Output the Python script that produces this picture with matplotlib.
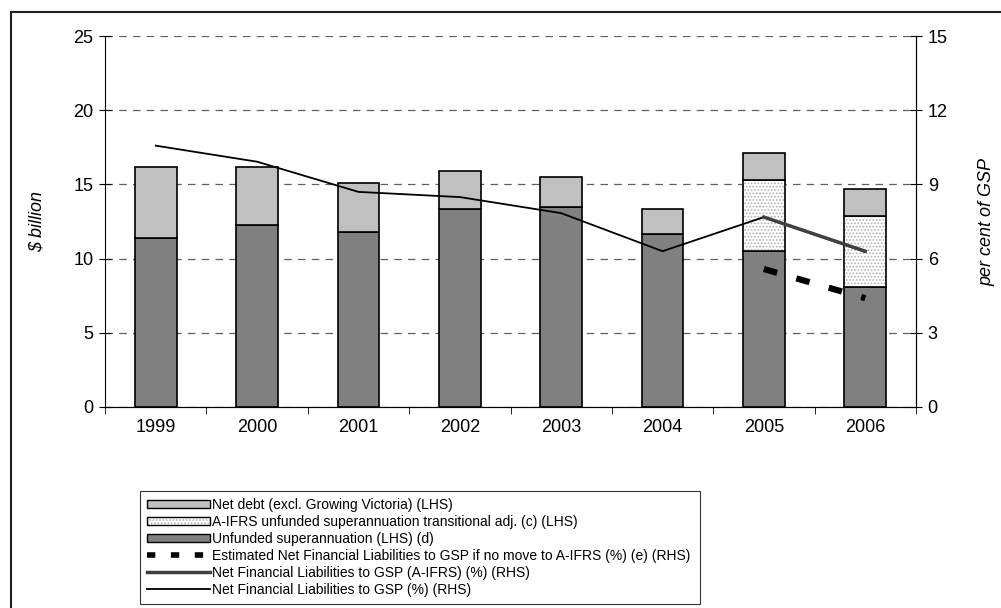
import numpy as np
import matplotlib
matplotlib.use("Agg")
import matplotlib.pyplot as plt
from matplotlib.patches import Patch, Rectangle
from matplotlib.lines import Line2D
from matplotlib.legend_handler import HandlerTuple

plt.rcParams['font.family'] = ['Liberation Sans', 'DejaVu Sans']
plt.rcParams['hatch.linewidth'] = 0.8

years = ['1999', '2000', '2001', '2002', '2003', '2004', '2005', '2006']
unfunded = [11.4, 12.3, 11.8, 13.35, 13.45, 11.65, 10.5, 8.1]
transitional = [0, 0, 0, 0, 0, 0, 4.8, 4.8]
net_debt = [4.8, 3.9, 3.3, 2.55, 2.05, 1.7, 1.8, 1.8]
nfl_pct = [10.57, 9.92, 8.7, 8.49, 7.84, 6.3, 7.68, 6.27]
nfl_aifrs_years = ['2005', '2006']
nfl_aifrs = [7.68, 6.3]
nfl_est_years = ['2005', '2006']
nfl_est = [5.58, 4.4]

fig = plt.figure(figsize=(10.01, 6.08), dpi=100)
# outer frame, cut off at right and bottom like the original
fig.patches.append(Rectangle((11 / 1001, -0.05), 1.1, 1.05 - 12 / 608, transform=fig.transFigure,
                             fill=False, edgecolor='#202020', linewidth=1.5))
ax = fig.add_axes([0.105, 0.3306, 0.81, 0.61])
ax2 = ax.twinx()

x = np.arange(len(years))
w = 0.41
bottom2 = np.array(unfunded)
bottom3 = bottom2 + np.array(transitional)

ax.bar(x, unfunded, w, color='#808080', edgecolor='black', linewidth=1.2, zorder=3)
ax.bar(x, transitional, w, bottom=bottom2, color='white', edgecolor='#b0b0b0',
       hatch='.....', linewidth=0, zorder=3)
ax.bar(x, transitional, w, bottom=bottom2, fill=False, edgecolor='black', linewidth=1.2, zorder=3)
ax.bar(x, net_debt, w, bottom=bottom3, color='#c0c0c0', edgecolor='black', linewidth=1.2, zorder=3)

xi = {y: i for i, y in enumerate(years)}
ax2.plot(x, nfl_pct, color='black', lw=1.3, zorder=4)
ax2.plot([xi[y] for y in nfl_aifrs_years], nfl_aifrs, color='#404040', lw=2.5, zorder=4)
ax2.plot([xi[y] for y in nfl_est_years], nfl_est, color='black', lw=4.5,
         dashes=(2.2, 3.2), zorder=4)

ax.set_xlim(-0.5, 7.5)
ax.set_ylim(0, 25)
ax2.set_ylim(0, 15)
ax.set_yticks([0, 5, 10, 15, 20, 25])
ax2.set_yticks([0, 3, 6, 9, 12, 15])
ax.set_xticks(x)
ax.set_xticklabels(years)
ax.set_xticks(np.arange(-0.5, 8, 1), minor=True)
ax.tick_params(axis='x', which='major', length=0, pad=9, labelsize=13)
ax.tick_params(axis='x', which='minor', length=5, direction='out')
ax.tick_params(axis='y', length=9, direction='inout', labelsize=13, pad=4)
ax2.tick_params(axis='y', length=9, direction='inout', labelsize=13, pad=4)

ax.grid(axis='y', color='#606060', linestyle=(0, (6, 5)), lw=0.9, zorder=0)
ax.set_axisbelow(True)
for a in (ax, ax2):
    a.spines['top'].set_visible(False)
ax2.spines['left'].set_visible(False)

ax.set_ylabel('$ billion', fontsize=13, style='italic', labelpad=20)
ax2.set_ylabel('per cent of GSP', fontsize=13, style='italic', rotation=90, labelpad=22)

h_debt = Patch(facecolor='#c0c0c0', edgecolor='black', lw=1)
h_trans = (Patch(facecolor='white', edgecolor='#b0b0b0', hatch='.....', lw=0),
           Patch(fill=False, edgecolor='black', lw=1))
h_unf = Patch(facecolor='#808080', edgecolor='black', lw=1)
h_est = Line2D([], [], color='black', lw=4, dashes=(1.5, 2.8))
h_aifrs = Line2D([], [], color='#404040', lw=2.5)
h_nfl = Line2D([], [], color='black', lw=1.3)

labels = ['Net debt (excl. Growing Victoria) (LHS)',
          'A-IFRS unfunded superannuation transitional adj. (c) (LHS)',
          'Unfunded superannuation (LHS) (d)',
          'Estimated Net Financial Liabilities to GSP if no move to A-IFRS (%) (e) (RHS)',
          'Net Financial Liabilities to GSP (A-IFRS) (%) (RHS)',
          'Net Financial Liabilities to GSP (%) (RHS)']
leg = fig.legend([h_debt, h_trans, h_unf, h_est, h_aifrs, h_nfl], labels,
                 handler_map={tuple: HandlerTuple(ndivide=1, pad=0)},
                 loc='upper left', bbox_to_anchor=(0.14, 0.0066, 0.559, 0.186),
                 mode='expand', fontsize=10, frameon=True, fancybox=False,
                 edgecolor='black', handlelength=4.5, handleheight=0.6,
                 handletextpad=0.2, labelspacing=0.22, borderpad=0.5,
                 borderaxespad=0)
leg.get_frame().set_linewidth(0.8)

fig.savefig('out.png', dpi=100)
